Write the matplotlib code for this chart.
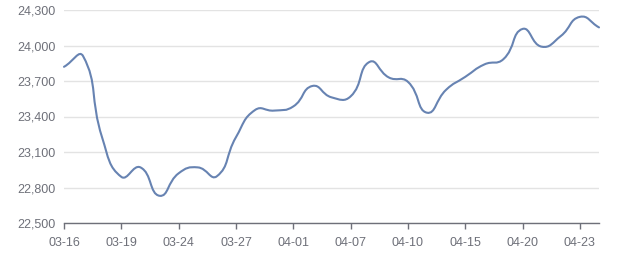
import numpy as np
import matplotlib
matplotlib.use('Agg')
import matplotlib.pyplot as plt
from matplotlib.path import Path
from matplotlib.patches import PathPatch
from matplotlib.ticker import FuncFormatter

# Trading days, 03-16 .. 04-24
dates = ['03-16', '03-17', '03-18', '03-19', '03-20', '03-23', '03-24', '03-25',
         '03-26', '03-27', '03-30', '03-31', '04-01', '04-02', '04-03', '04-07',
         '04-08', '04-09', '04-10', '04-13', '04-14', '04-15', '04-16', '04-17',
         '04-20', '04-21', '04-22', '04-23', '04-24']
prices = [23820, 23910, 23220, 22890, 22970, 22730, 22920, 22970,
          22895, 23225, 23455, 23450, 23485, 23658, 23562, 23570,
          23862, 23730, 23693, 23432, 23626, 23735, 23840, 23885,
          24140, 23990, 24080, 24242, 24153]
y_ticks = [22500, 22800, 23100, 23400, 23700, 24000, 24300]
label_every = 3

line_color = '#6783b2'
text_color = '#6e7079'

fig = plt.figure(figsize=(6.4, 2.7), dpi=100)
ax = fig.add_axes([64 / 640, 47 / 270, 535 / 640, 213 / 270])

x = np.arange(len(prices))
y = np.array(prices, dtype=float)
ax.set_xlim(0, len(prices) - 1)
ax.set_ylim(y_ticks[0], y_ticks[-1])

# smooth line like echarts (bezier control points computed in pixel space)
sx = 535 / (len(prices) - 1)
sy = 213 / (y_ticks[-1] - y_ticks[0])
px, py = x * sx, y * sy
smooth = 0.5
verts = [(x[0], y[0])]
codes = [Path.MOVETO]
n = len(x)
cps = []
for i in range(n):
    prev_i = max(i - 1, 0)
    next_i = min(i + 1, n - 1)
    vx, vy = px[next_i] - px[prev_i], py[next_i] - py[prev_i]
    d0 = np.hypot(px[i] - px[prev_i], py[i] - py[prev_i])
    d1 = np.hypot(px[next_i] - px[i], py[next_i] - py[i])
    tot = d0 + d1 if d0 + d1 > 0 else 1
    c0 = (px[i] - vx * smooth * d0 / tot, py[i] - vy * smooth * d0 / tot)
    c1 = (px[i] + vx * smooth * d1 / tot, py[i] + vy * smooth * d1 / tot)
    cps.append((c0, c1))
for i in range(n - 1):
    a = cps[i][1]
    b = cps[i + 1][0]
    verts += [(a[0] / sx, a[1] / sy), (b[0] / sx, b[1] / sy), (x[i + 1], y[i + 1])]
    codes += [Path.CURVE4] * 3
ax.add_patch(PathPatch(Path(verts, codes), fill=False, edgecolor=line_color,
                       linewidth=1.5, capstyle='round', joinstyle='round',
                       zorder=3, clip_on=False))

ax.set_yticks(y_ticks)
ax.yaxis.set_major_formatter(FuncFormatter(lambda v, p: '{:,.0f}'.format(v)))
ax.grid(axis='y', color='#e3e3e3', linewidth=1)
ax.set_axisbelow(True)

tick_idx = list(range(0, len(dates), label_every))
ax.set_xticks(tick_idx)
ax.set_xticklabels([dates[i] for i in tick_idx])

for s in ['top', 'right', 'left']:
    ax.spines[s].set_visible(False)
ax.spines['bottom'].set_color(text_color)
ax.spines['bottom'].set_linewidth(1)

ax.tick_params(axis='y', length=0, pad=6, labelsize=9, labelcolor=text_color)
ax.tick_params(axis='x', length=4, width=1, color=text_color, pad=6,
               labelsize=9, labelcolor=text_color)
for lab in ax.get_xticklabels() + ax.get_yticklabels():
    lab.set_family('Liberation Sans')

fig.savefig('out.png', dpi=100)
